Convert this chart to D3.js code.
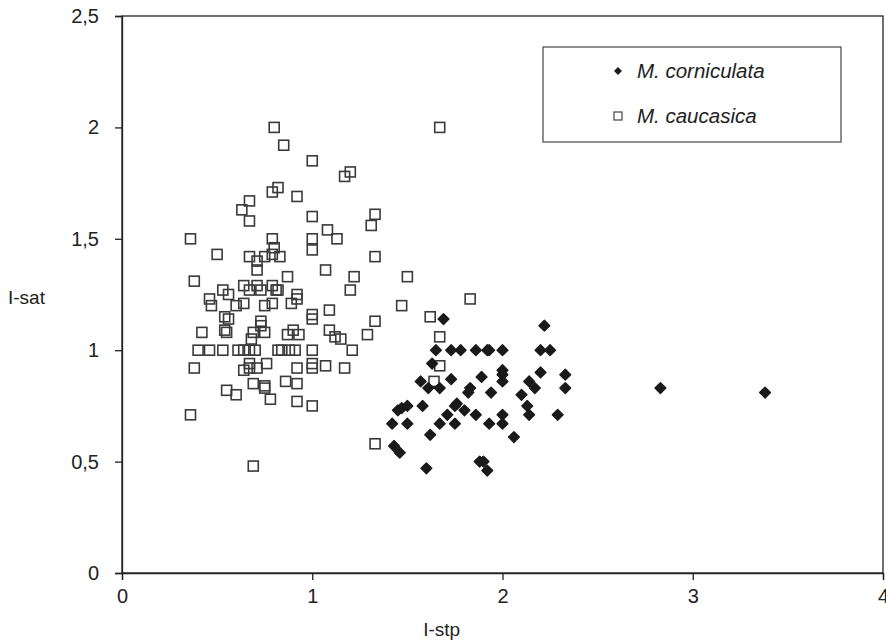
<!DOCTYPE html>
<html>
<head>
<meta charset="utf-8">
<script src="https://cdn.jsdelivr.net/npm/d3@7"></script>
<style>
  body { margin: 0; background: #fff; }
  svg text { font-family: "Liberation Sans", Arial, sans-serif; fill: #222; }
</style>
</head>
<body>
<svg id="chart"></svg>
<script>
// M. caucasica (open squares)
const caucasicaX = [0.80, 0.85, 1.00, 1.17, 1.20, 0.79, 0.82, 0.92, 0.67, 0.63, 0.67, 1.00, 1.33, 1.31,
  0.36, 0.79, 1.00, 1.00, 1.08, 1.13, 0.80, 0.50, 0.67, 0.75, 0.79, 0.83, 0.71, 0.71, 1.33, 1.07,
  0.38, 0.87, 1.22, 1.50, 0.53, 0.56, 0.64, 0.67, 0.71, 0.73, 0.79, 0.81, 0.82, 0.46, 0.47, 0.60,
  0.64, 0.75, 0.79, 0.89, 0.92, 0.92, 1.20, 1.47, 1.83, 1.62, 0.54, 0.56, 0.73, 0.73, 1.00, 1.00,
  1.09, 1.33, 0.42, 0.54, 0.55, 0.69, 0.75, 0.68, 0.87, 0.90, 0.93, 1.09, 1.12, 1.15, 1.29, 1.67,
  0.40, 0.46, 0.53, 0.61, 0.64, 0.67, 0.70, 0.82, 0.84, 0.88, 0.91, 1.00, 1.21,
  0.38, 0.64, 0.67, 0.67, 0.71, 0.76, 0.92, 1.00, 1.00, 1.07, 1.17, 1.67, 0.69, 0.55, 0.60, 0.75,
  0.75, 0.86, 0.92, 1.64, 0.78, 0.92, 1.00, 0.36, 1.33, 0.69, 1.67];
const caucasicaY = [2.00, 1.92, 1.85, 1.78, 1.80, 1.71, 1.73, 1.69, 1.67, 1.63, 1.58, 1.60, 1.61, 1.56,
  1.50, 1.50, 1.50, 1.45, 1.54, 1.50, 1.46, 1.43, 1.42, 1.42, 1.43, 1.42, 1.40, 1.36, 1.42, 1.36,
  1.31, 1.33, 1.33, 1.33, 1.27, 1.25, 1.29, 1.27, 1.29, 1.27, 1.29, 1.27, 1.27, 1.23, 1.20, 1.20,
  1.21, 1.20, 1.21, 1.21, 1.25, 1.23, 1.27, 1.20, 1.23, 1.15, 1.15, 1.14, 1.13, 1.11, 1.16, 1.14,
  1.18, 1.13, 1.08, 1.09, 1.08, 1.08, 1.08, 1.05, 1.07, 1.09, 1.07, 1.09, 1.06, 1.05, 1.07, 1.06,
  1.00, 1.00, 1.00, 1.00, 1.00, 1.00, 1.00, 1.00, 1.00, 1.00, 1.00, 1.00, 1.00,
  0.92, 0.91, 0.94, 0.92, 0.92, 0.94, 0.92, 0.94, 0.92, 0.93, 0.92, 0.93, 0.85, 0.82, 0.80, 0.83,
  0.84, 0.86, 0.85, 0.86, 0.78, 0.77, 0.75, 0.71, 0.58, 0.48, 2.00];

// M. corniculata (filled diamonds)
const corniculataX = [1.69, 2.22, 1.65, 1.73, 1.78, 1.86, 1.92, 1.93, 2.00, 2.20, 2.25, 1.63, 2.00, 2.00,
  1.89, 2.20, 2.33, 2.00, 1.57, 1.73, 2.14, 1.61, 1.67, 1.83, 1.82, 1.94, 2.17, 2.33, 2.10, 2.83,
  3.38, 1.58, 1.50, 1.47, 1.45, 1.76, 1.75, 1.80, 2.13, 1.71, 1.86, 2.00, 2.14, 2.29, 1.42, 1.50,
  1.67, 1.75, 1.93, 2.00, 1.62, 2.06, 1.43, 1.46, 1.88, 1.90, 1.60, 1.92];
const corniculataY = [1.14, 1.11, 1.00, 1.00, 1.00, 1.00, 1.00, 1.00, 1.00, 1.00, 1.00, 0.94, 0.91, 0.89,
  0.88, 0.90, 0.89, 0.86, 0.86, 0.87, 0.86, 0.83, 0.83, 0.83, 0.81, 0.81, 0.83, 0.83, 0.80, 0.83,
  0.81, 0.75, 0.75, 0.74, 0.73, 0.76, 0.75, 0.73, 0.75, 0.71, 0.71, 0.71, 0.71, 0.71, 0.67, 0.67,
  0.67, 0.67, 0.67, 0.67, 0.62, 0.61, 0.57, 0.54, 0.50, 0.50, 0.47, 0.46];

const xTicks = [0, 1, 2, 3, 4];
const yTicks = [0, 0.5, 1, 1.5, 2, 2.5];
const seriesNames = ['M. corniculata', 'M. caucasica'];

const width = 886, height = 641;
const svg = d3.select('#chart').attr('width', width).attr('height', height);

const x = d3.scaleLinear().domain([0, 4]).range([122, 883]);
const y = d3.scaleLinear().domain([0, 2.5]).range([573, 16]);
const comma = d => String(d).replace('.', ',');

// frame
svg.append('rect')
  .attr('x', x(0)).attr('y', y(2.5))
  .attr('width', x(4) - x(0)).attr('height', y(0) - y(2.5))
  .attr('fill', 'none').attr('stroke', '#222').attr('stroke-width', 1.3);

// axes
const xAxis = svg.append('g')
  .attr('transform', `translate(0,${y(0)})`)
  .call(d3.axisBottom(x).tickValues(xTicks).tickFormat(comma).tickSize(7).tickPadding(9));
const yAxis = svg.append('g')
  .attr('transform', `translate(${x(0)},0)`)
  .call(d3.axisLeft(y).tickValues(yTicks).tickFormat(comma).tickSize(7).tickPadding(16));
[xAxis, yAxis].forEach(g => {
  g.select('.domain').attr('stroke', '#222').attr('stroke-width', 1.3);
  g.selectAll('.tick line').attr('stroke', '#222').attr('stroke-width', 1.3);
  g.selectAll('.tick text').attr('font-size', 20).attr('fill', '#222')
    .style('font-family', '"Liberation Sans", Arial, sans-serif');
});

// axis titles
svg.append('text').attr('x', x(1.68)).attr('y', 636)
  .attr('text-anchor', 'middle').attr('font-size', 19).text('I-stp');
svg.append('text').attr('x', 8).attr('y', 304)
  .attr('font-size', 19).text('I-sat');

// caucasica squares
const sq = 10;
svg.append('g').selectAll('rect')
  .data(caucasicaX.map((v, i) => [v, caucasicaY[i]]))
  .join('rect')
  .attr('x', d => x(d[0]) - sq / 2)
  .attr('y', d => y(d[1]) - sq / 2)
  .attr('width', sq).attr('height', sq)
  .attr('fill', 'none').attr('stroke', '#3a3a3a').attr('stroke-width', 1.6);

// corniculata diamonds
const diamond = d3.symbol().type(d3.symbolDiamond2).size(74);
svg.append('g').selectAll('path')
  .data(corniculataX.map((v, i) => [v, corniculataY[i]]))
  .join('path')
  .attr('transform', d => `translate(${x(d[0])},${y(d[1])})`)
  .attr('d', diamond)
  .attr('fill', '#1a1a1a').attr('stroke', '#1a1a1a').attr('stroke-width', 1.4)
  .attr('stroke-linejoin', 'round');

// legend
const lg = svg.append('g');
lg.append('rect').attr('x', 543).attr('y', 47).attr('width', 298).attr('height', 95)
  .attr('fill', '#fff').attr('stroke', '#444').attr('stroke-width', 1.2);
lg.append('path').attr('transform', 'translate(618,71)')
  .attr('d', d3.symbol().type(d3.symbolDiamond2).size(40))
  .attr('fill', '#1a1a1a');
lg.append('rect').attr('x', 614).attr('y', 112).attr('width', 8).attr('height', 8)
  .attr('fill', 'none').attr('stroke', '#444').attr('stroke-width', 1.2);
lg.selectAll('text.lab').data(seriesNames).join('text')
  .attr('class', 'lab')
  .attr('x', 637).attr('y', (d, i) => 78 + i * 45)
  .attr('font-size', 20.5).attr('font-style', 'italic')
  .text(d => d);
</script>
</body>
</html>
